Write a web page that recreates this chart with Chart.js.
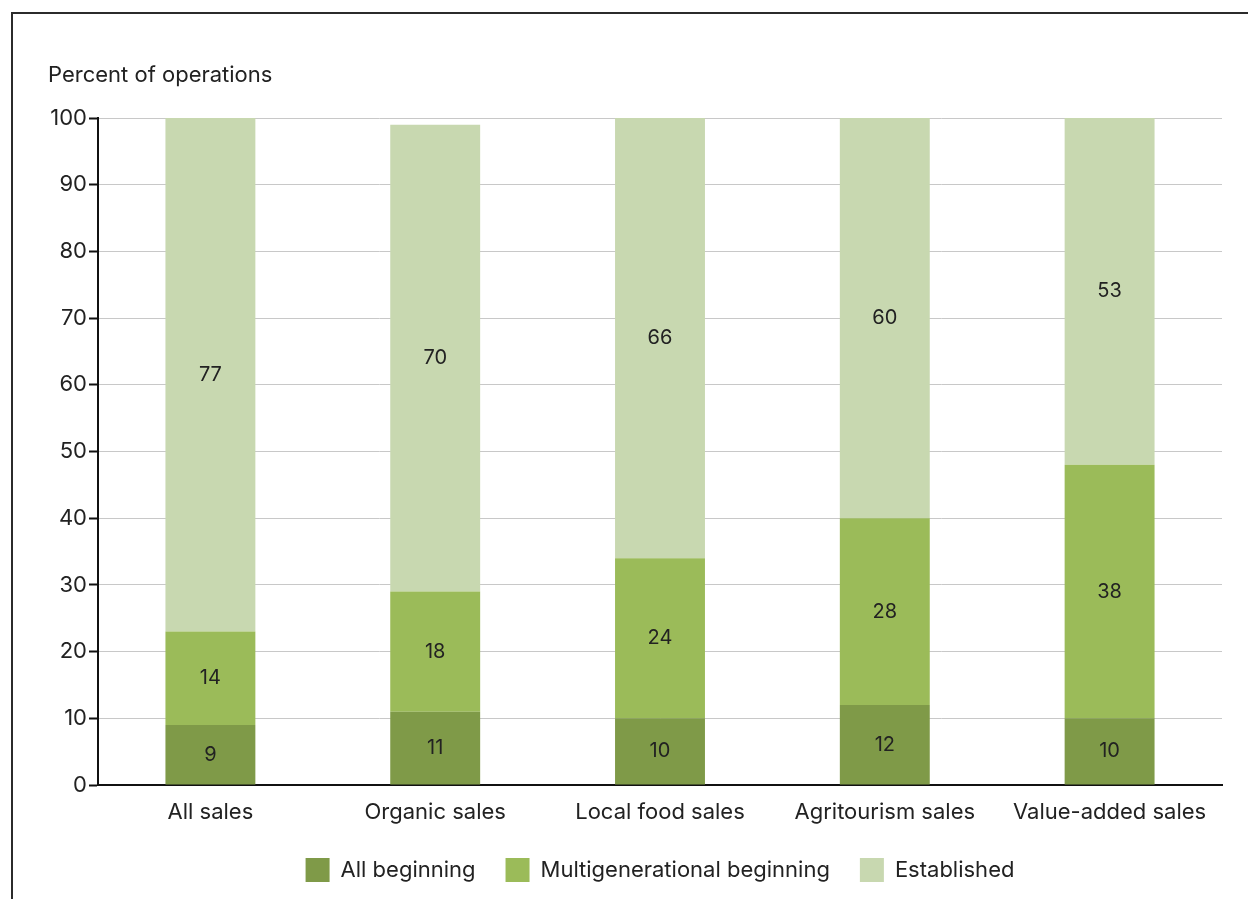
<!DOCTYPE html>
<html>
<head>
<meta charset="utf-8">
<script src="https://cdn.jsdelivr.net/npm/chart.js@4.4.1/dist/chart.umd.min.js"></script>
<style>
  html, body { margin: 0; padding: 0; background: #fff; overflow: hidden; }
  #frame { position: absolute; left: 11px; top: 12px; width: 1400px; height: 1000px; border: 2px solid #2b2b2b; box-sizing: border-box; }
  #wrap { position: absolute; left: 0; top: 0; width: 1248px; height: 899px; }
</style>
</head>
<body>
<div id="frame"></div>
<div id="wrap"><canvas id="c" width="1248" height="899"></canvas></div>
<script>
const categories = ['All sales', 'Organic sales', 'Local food sales', 'Agritourism sales', 'Value-added sales'];
const allBeginning = [9, 11, 10, 12, 10];
const multigenerationalBeginning = [14, 18, 24, 28, 38];
const established = [77, 70, 66, 60, 53];
const seriesNames = ['All beginning', 'Multigenerational beginning', 'Established'];
const seriesColors = ['#7f9a48', '#9bbb59', '#c8d8b0'];
const yTicks = [0, 10, 20, 30, 40, 50, 60, 70, 80, 90, 100];
const yAxisTitle = 'Percent of operations';

const FONT = 'Inter, "DejaVu Sans", sans-serif';
const TEXT = '#222222';

// Writes each segment's value in the middle of its bar piece
const segmentLabels = {
  id: 'segmentLabels',
  afterDatasetsDraw(chart) {
    const ctx = chart.ctx;
    ctx.save();
    ctx.font = '20px ' + FONT;
    ctx.fillStyle = TEXT;
    ctx.textAlign = 'center';
    ctx.textBaseline = 'middle';
    chart.data.datasets.forEach((ds, i) => {
      chart.getDatasetMeta(i).data.forEach((bar, j) => {
        const top = Math.max(bar.y, chart.chartArea.top);
        const y = (top + bar.base) / 2;
        ctx.fillText(String(ds.data[j]), bar.x, y);
      });
    });
    ctx.restore();
  }
};

// Horizontal axis caption above the value axis
const axisCaption = {
  id: 'axisCaption',
  afterDraw(chart) {
    const ctx = chart.ctx;
    ctx.save();
    ctx.font = '22px ' + FONT;
    ctx.fillStyle = TEXT;
    ctx.textAlign = 'left';
    ctx.textBaseline = 'middle';
    ctx.fillText(yAxisTitle, 48, 75);
    ctx.restore();
  }
};

// Centre the legend under the plot area rather than the whole canvas
const legendUnderPlot = {
  id: 'legendUnderPlot',
  beforeDraw(chart) {
    if (chart.legend) {
      chart.legend.left = chart.chartArea.left;
      chart.legend.right = chart.chartArea.right;
    }
  }
};

new Chart(document.getElementById('c'), {
  type: 'bar',
  data: {
    labels: categories,
    datasets: [allBeginning, multigenerationalBeginning, established].map((d, i) => ({
      label: seriesNames[i],
      data: d,
      backgroundColor: seriesColors[i],
      borderWidth: 0,
      barPercentage: 0.4,
      categoryPercentage: 1.0
    }))
  },
  options: {
    responsive: false,
    animation: false,
    layout: { padding: { top: 118, right: 26, bottom: 7, left: 0 } },
    plugins: {
      legend: {
        position: 'bottom',
        labels: {
          font: { family: FONT, size: 22 },
          color: TEXT,
          boxWidth: 24,
          boxHeight: 24,
          padding: 30,
          useBorderRadius: false
        }
      },
      tooltip: { enabled: false },
      title: { display: false }
    },
    scales: {
      x: {
        stacked: true,
        grid: { display: false },
        border: { display: true, color: '#111', width: 2 },
        ticks: { font: { family: FONT, size: 22 }, color: TEXT, padding: 6 },
        afterFit(s) { s.height = 43; }
      },
      y: {
        stacked: true,
        min: 0,
        max: 100,
        afterBuildTicks(s) { s.ticks = yTicks.map(v => ({ value: v })); },
        grid: { color: '#c8c8c8', lineWidth: 1, tickColor: '#111', tickLength: 9, tickWidth: 2 },
        border: { display: true, color: '#111', width: 2 },
        ticks: { font: { family: FONT, size: 22 }, color: TEXT, padding: 2 },
        afterFit(s) { s.width = 98; }
      }
    }
  },
  plugins: [segmentLabels, axisCaption, legendUnderPlot]
});
</script>
</body>
</html>
